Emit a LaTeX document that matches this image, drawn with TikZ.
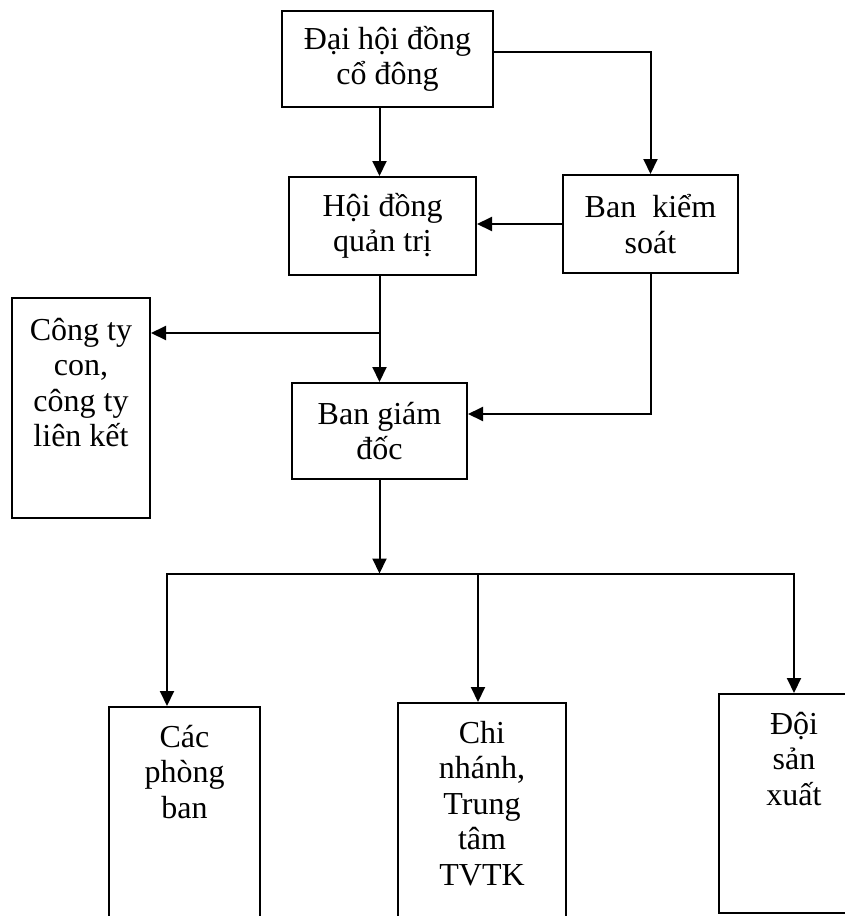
\documentclass[tikz,border=0pt]{standalone}
\usepackage{fontspec}
\setmainfont{Liberation Serif}
\usetikzlibrary{arrows.meta}
\begin{document}
\begin{tikzpicture}[x=1pt,y=-1pt,
  box/.style={draw, line width=2pt, inner sep=0pt, anchor=north west, align=center,
    font=\fontsize{32}{35.5}\selectfont},
  lbl/.style={inner sep=0pt, anchor=north, align=center, font=\fontsize{32}{35.5}\selectfont},
  arr/.style={line width=2pt, -{Triangle[length=15pt,width=14pt]}}]
\useasboundingbox (0,0) rectangle (845,916);
\fill[white] (0,0) rectangle (845,916);
% boxes
\node[box, minimum width=211pt, minimum height=96pt] (b1) at (281,10) {Đại hội đồng\\cổ đông};
\node[box, minimum width=187pt, minimum height=98pt] (b2) at (288,176) {Hội đồng\\quản trị};
\node[box, minimum width=175pt, minimum height=98pt] (b3) at (562,174) {Ban\ \ kiểm\\soát};
\node[box, minimum width=138pt, minimum height=220pt] (b4) at (11,297) {};
\node[box, minimum width=175pt, minimum height=96pt] (b5) at (291,382) {Ban giám\\đốc};
\node[box, minimum width=151pt, minimum height=230pt] (b6) at (108,706) {};
\node[box, minimum width=168pt, minimum height=235pt] (b7) at (397,702) {};
\node[box, minimum width=140pt, minimum height=219pt] (b8) at (718,693) {};
% texts at the top of tall boxes
\node[lbl] (b4t) at ([yshift=-21pt]b4.north) {Công ty\\con,\\công ty\\liên kết};
\node[lbl] (b6t) at ([yshift=-19pt]b6.north) {Các\\phòng\\ban};
\node[lbl] (b7t) at ([yshift=-19pt]b7.north) {Chi\\nhánh,\\Trung\\tâm\\TVTK};
% junctions
\coordinate (j1) at (378.5,333);
\coordinate (busL) at (167,573.5);
\coordinate (busM) at (478,573.5);
\coordinate (busR) at (794,573.5);
\node[lbl] (b8t) at ([yshift=-19pt]b8.north -| busR) {Đội\\sản\\xuất};
% connectors
\draw[arr] (b1.south -| b5.north) -- (b2.north -| b5.north);
\draw[arr] ([yshift=7pt]b1.east) -| (b3.north);
\draw[arr] (b3.west) -- (b2.east |- b3.west);
\draw[arr] (b2.south -| b5.north) -- (b5.north);
\draw[arr] (j1) -- (j1 -| b4.east);
\draw[arr] (b3.south) |- ([yshift=17pt]b5.east);
\draw[arr] (b5.south) -- (b5.south |- busM);
\draw[arr] (busM) -- (busL) -- (busL |- b6.north);
\draw[arr] (busM) -- (busR) -- (busR |- b8.north);
\draw[arr] (busM) -- (busM |- b7.north);
\end{tikzpicture}
\end{document}
